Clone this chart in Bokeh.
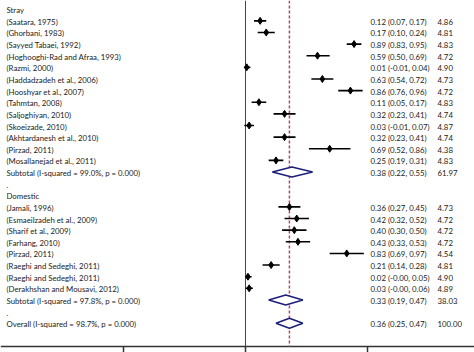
from bokeh.plotting import figure
from bokeh.models import ColumnDataSource, Range1d
from bokeh.core.properties import value
from bokeh.embed import file_html
from bokeh.resources import INLINE

# ---- data ----
stray_labels = ["(Saatara, 1975)", "(Ghorbani, 1983)", "(Sayyed Tabaei, 1992)",
                "(Hoghooghi-Rad and Afraa, 1993)", "(Razmi, 2000)",
                "(Haddadzadeh et al., 2006)", "(Hooshyar et al., 2007)",
                "(Tahmtan, 2008)", "(Saljoghiyan, 2010)", "(Skoeizade, 2010)",
                "(Akhtardanesh et al., 2010)", "(Pirzad, 2011)",
                "(Mosallanejad et al., 2011)"]
stray_est = [0.12, 0.17, 0.89, 0.59, 0.01, 0.63, 0.86, 0.11, 0.32, 0.03, 0.32, 0.69, 0.25]
stray_lo = [0.07, 0.10, 0.83, 0.50, -0.01, 0.54, 0.76, 0.05, 0.23, -0.01, 0.23, 0.52, 0.19]
stray_hi = [0.17, 0.24, 0.95, 0.69, 0.04, 0.72, 0.96, 0.17, 0.41, 0.07, 0.41, 0.86, 0.31]
stray_w = [4.86, 4.81, 4.83, 4.72, 4.90, 4.73, 4.72, 4.83, 4.74, 4.87, 4.74, 4.38, 4.83]

dom_labels = ["(Jamali, 1996)", "(Esmaeilzadeh et al., 2009)", "(Sharif et al., 2009)",
              "(Farhang, 2010)", "(Pirzad, 2011)", "(Raeghi and Sedeghi, 2011)",
              "(Raeghi and Sedeghi, 2011)", "(Derakhshan and Mousavi, 2012)"]
dom_est = [0.36, 0.42, 0.40, 0.43, 0.83, 0.21, 0.02, 0.03]
dom_lo = [0.27, 0.32, 0.30, 0.33, 0.69, 0.14, -0.0, -0.0]
dom_hi = [0.45, 0.52, 0.50, 0.53, 0.97, 0.28, 0.05, 0.06]
dom_w = [4.73, 4.72, 4.72, 4.72, 4.54, 4.81, 4.90, 4.89]

pooled_labels = ["Subtotal  (I-squared = 99.0%, p = 0.000)",
                 "Subtotal  (I-squared = 97.8%, p = 0.000)",
                 "Overall  (I-squared = 98.7%, p = 0.000)"]
pooled_est = [0.38, 0.33, 0.36]
pooled_lo = [0.22, 0.19, 0.25]
pooled_hi = [0.55, 0.47, 0.47]
pooled_w = [61.97, 38.03, 100.00]

group_labels = ["Stray", "Domestic"]
x_ticks = [-1, 0, 1]

# ---- row layout ----
stray_rows = list(range(1, 1 + len(stray_labels)))           # 1..13
sub1_row = stray_rows[-1] + 1                                  # 14
dot1_row = sub1_row + 1                                        # 15
dom_head_row = dot1_row + 1                                    # 16
dom_rows = list(range(dom_head_row + 1, dom_head_row + 1 + len(dom_labels)))  # 17..24
sub2_row = dom_rows[-1] + 1                                    # 25
dot2_row = sub2_row + 1                                        # 26
overall_row = dot2_row + 1                                     # 27
axis_row = overall_row + 2                                     # 29
pooled_rows = [sub1_row, sub2_row, overall_row]
group_rows = [0, dom_head_row]

fmt = lambda e, l, h: f"{e:.2f} ({l:.2f}, {h:.2f})"

study = ColumnDataSource(dict(
    y=stray_rows + dom_rows,
    est=stray_est + dom_est,
    lo=stray_lo + dom_lo,
    hi=stray_hi + dom_hi,
    label=stray_labels + dom_labels,
    ci=[fmt(e, l, h) for e, l, h in zip(stray_est + dom_est, stray_lo + dom_lo, stray_hi + dom_hi)],
    w=[f"{w:.2f}" for w in stray_w + dom_w],
))

dh = 0.43
pooled = ColumnDataSource(dict(
    y=pooled_rows,
    label=pooled_labels,
    ci=[fmt(e, l, h) for e, l, h in zip(pooled_est, pooled_lo, pooled_hi)],
    w=[f"{w:.2f}" for w in pooled_w],
    xs=[[l, e, h, e] for e, l, h in zip(pooled_est, pooled_lo, pooled_hi)],
    ys=[[r, r - dh, r, r + dh] for r in pooled_rows],
))

# pixel mapping: zero at 245 px, 122 px per unit; rows 11.63 px apart
px0, ppu = 245.0, 122.0
py0, ppr = 8.7, 11.63
W, H = 474, 352
x0, x1 = -px0 / ppu, (W - px0) / ppu
y_top, y_bot = -py0 / ppr, (H - py0) / ppr
p = figure(width=W, height=H, output_backend="svg", toolbar_location=None,
           x_range=Range1d(x0, x1), y_range=Range1d(y_bot, y_top),
           min_border=0)
p.outline_line_color = None
p.grid.visible = False
p.axis.visible = False

# axis line and ticks (drawn through the data scales)
p.segment(x0=[x0], x1=[x1], y0=[axis_row], y1=[axis_row], line_color="#333333", line_width=1.6)
p.segment(x0=x_ticks, x1=x_ticks, y0=[axis_row] * 3, y1=[y_bot] * 3,
          line_color="#333333", line_width=1.5)

# null line and overall-estimate line
p.segment(x0=[0], x1=[0], y0=[y_top], y1=[axis_row], line_color="#444444", line_width=1)
p.segment(x0=[pooled_est[2]], x1=[pooled_est[2]], y0=[y_top], y1=[axis_row],
          line_color="#b04a68", line_width=1.5, line_dash="3 2")

p.segment(x0="lo", x1="hi", y0="y", y1="y", source=study, line_color="black", line_width=1.6)
p.scatter(x="est", y="y", source=study, marker="diamond", size=7, color="black")
p.patches(xs="xs", ys="ys", source=pooled, fill_color="white",
          line_color="#1c1f7a", line_width=1.5)

font = value("Lato")
fs = "7.8px"
col_label = (6 - px0) / ppu
col_ci = (370 - px0) / ppu
col_w = (437 - px0) / ppu

for src in (study, pooled):
    for col, field in ((col_label, "label"), (col_ci, "ci"), (col_w, "w")):
        p.text(x=col, y="y", text=field, source=src, text_font=font,
               text_font_size=fs, text_baseline="middle", text_color="#222222",
               y_offset=1)

p.text(x=[col_label] * 2, y=group_rows, text=group_labels, text_font=font,
       text_font_size=fs, text_baseline="middle", text_color="#222222", y_offset=1)
p.text(x=[col_label] * 2, y=[dot1_row, dot2_row], text=[".", "."], text_font=font,
       text_font_size=fs, text_baseline="middle", text_color="#222222", y_offset=1)

open("out.html", "w").write(file_html(p, INLINE))
